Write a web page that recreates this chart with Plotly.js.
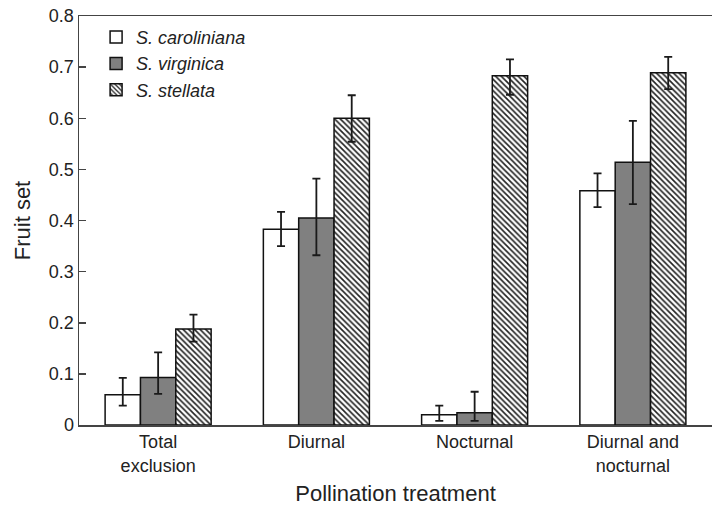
<!DOCTYPE html>
<html>
<head>
<meta charset="utf-8">
<script src="https://cdn.plot.ly/plotly-3.0.1.min.js"></script>
<style>html,body{margin:0;padding:0;background:#fff;}#chart{width:712px;height:506px;}</style>
</head>
<body>
<div id="chart"></div>
<script>
// Categories (pollination treatments)
var categories = ['Total<br>exclusion', 'Diurnal', 'Nocturnal', 'Diurnal and<br>nocturnal'];
// Series names
var seriesNames = ['S. caroliniana', 'S. virginica', 'S. stellata'];
// Fruit set means
var carolinianaVals = [0.059, 0.383, 0.020, 0.458];
var virginicaVals   = [0.093, 0.405, 0.024, 0.514];
var stellataVals    = [0.188, 0.600, 0.683, 0.689];
// Error bar extents (upper / lower)
var carolinianaErrUp   = [0.033, 0.034, 0.018, 0.034];
var carolinianaErrDown = [0.021, 0.033, 0.012, 0.032];
var virginicaErrUp     = [0.049, 0.077, 0.041, 0.081];
var virginicaErrDown   = [0.032, 0.073, 0.016, 0.082];
var stellataErrUp      = [0.028, 0.045, 0.032, 0.031];
var stellataErrDown    = [0.025, 0.046, 0.037, 0.032];
// Y tick values
var yTicks = [0, 0.1, 0.2, 0.3, 0.4, 0.5, 0.6, 0.7, 0.8];
var yTickText = ['0', '0.1', '0.2', '0.3', '0.4', '0.5', '0.6', '0.7', '0.8'];

var FONT = 'Liberation Sans, Arial, Helvetica, sans-serif';
var errStyle = {color: '#1a1a1a', thickness: 1.8, width: 4};

function errObj(up, down) {
  return Object.assign({type: 'data', symmetric: false, array: up, arrayminus: down, visible: true}, errStyle);
}

var traces = [
  {
    type: 'bar', name: '<i>' + seriesNames[0] + '</i>',
    x: categories, y: carolinianaVals,
    marker: {color: '#ffffff', line: {color: '#111', width: 1.5}},
    error_y: errObj(carolinianaErrUp, carolinianaErrDown)
  },
  {
    type: 'bar', name: '<i>' + seriesNames[1] + '</i>',
    x: categories, y: virginicaVals,
    marker: {color: '#808080', line: {color: '#111', width: 1.5}},
    error_y: errObj(virginicaErrUp, virginicaErrDown)
  },
  {
    type: 'bar', name: '<i>' + seriesNames[2] + '</i>',
    x: categories, y: stellataVals,
    marker: {color: '#ffffff', line: {color: '#111', width: 1.5},
      pattern: {shape: '\\', fgcolor: '#222', bgcolor: '#ffffff', size: 4, solidity: 0.4, fillmode: 'replace'}},
    error_y: errObj(stellataErrUp, stellataErrDown)
  }
];

var layout = {
  width: 712, height: 506,
  margin: {l: 79, r: 0, t: 16, b: 81, pad: 0},
  paper_bgcolor: '#fff', plot_bgcolor: '#fff',
  font: {family: FONT, size: 18, color: '#222'},
  barmode: 'group', bargap: 0.33, bargroupgap: 0,
  showlegend: true,
  legend: {
    x: 0.027, y: 0.993, xanchor: 'left', yanchor: 'top',
    bgcolor: 'rgba(0,0,0,0)', borderwidth: 0,
    font: {family: FONT, size: 18, color: '#222'},
    traceorder: 'normal', itemclick: false
  },
  xaxis: {
    type: 'category', range: [-0.5, 3.5],
    showline: true, linecolor: '#444', linewidth: 1.5, mirror: true,
    ticks: '', showgrid: false, zeroline: false,
    tickfont: {family: FONT, size: 18, color: '#222'},
    title: {text: 'Pollination treatment', font: {family: FONT, size: 22, color: '#222'}, standoff: 16}
  },
  yaxis: {
    range: [0, 0.8], tickvals: yTicks, ticktext: yTickText,
    showline: true, linecolor: '#444', linewidth: 1.5, mirror: false,
    ticks: 'inside', ticklen: 7, tickwidth: 1.5, tickcolor: '#444',
    showgrid: false, zeroline: false,
    tickfont: {family: FONT, size: 18, color: '#222'},
    title: {text: 'Fruit set', font: {family: FONT, size: 22, color: '#222'}, standoff: 12}
  }
};

Plotly.newPlot('chart', traces, layout, {displayModeBar: false, staticPlot: true});
</script>
</body>
</html>
